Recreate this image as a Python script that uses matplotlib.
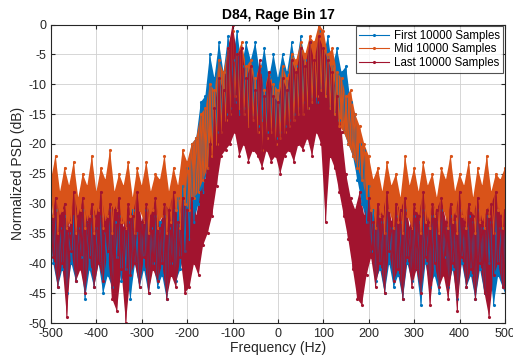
import numpy as np
import matplotlib
matplotlib.use('Agg')
import matplotlib.pyplot as plt

plt.rcParams['font.family'] = ['Liberation Sans', 'DejaVu Sans']
plt.rcParams['axes.unicode_minus'] = False

# frequency grid (Hz): peaks sit on the 10 Hz grid, troughs 5 Hz later
freq = np.arange(-500, 501, 10)

# PSD (dB): upper spikes and lower spikes, rows of 100 Hz
first_top = [
    -33, -31, -34, -32, -35, -32, -34, -31, -33, -32,
    -34, -32, -35, -31, -33, -32, -34, -33, -31, -35,
    -33, -31, -34, -32, -33, -32, -34, -31, -29, -27,
    -24, -20, -19, -13, -12, -5, -9, -3, -8, -2,
    -6, -1, -7, -3, -6, -3, -8, -4, -9, -5,
    -9, -5, -8, -3, -7, -2, -6, -3, -7, -1,
    -5, -2, -7, -4, -8, -7, -13, -15, -20, -21,
    -27, -31, -32, -33, -31, -34, -32, -33, -31, -34,
    -32, -33, -31, -34, -32, -33, -31, -34, -32, -33,
    -31, -34, -32, -33, -31, -34, -32, -33, -31, -34,
    -33,
]
first_bottom = [
    -40, -44, -41, -45, -40, -43, -39, -46, -41, -44,
    -40, -45, -42, -44, -39, -43, -41, -46, -40, -44,
    -41, -45, -40, -44, -42, -46, -40, -43, -41, -38,
    -36, -33, -30, -28, -24, -20, -18, -16, -15, -14,
    -13, -15, -14, -16, -15, -17, -16, -18, -17, -19,
    -18, -17, -16, -15, -14, -13, -14, -12, -13, -11,
    -12, -14, -15, -16, -18, -20, -22, -26, -30, -33,
    -38, -43, -41, -45, -40, -44, -42, -46, -40, -43,
    -41, -47, -40, -44, -42, -45, -39, -44, -41, -46,
    -40, -44, -42, -46, -41, -45, -40, -47, -42, -44,
    -46,
]

mid_top = [
    -26, -22, -28, -24, -27, -23, -29, -25, -27, -22,
    -28, -24, -26, -21, -28, -25, -27, -23, -29, -24,
    -27, -23, -28, -25, -26, -22, -28, -24, -27, -21,
    -23, -20, -19, -15, -14, -10, -11, -6, -8, -4,
    -1, -5, -3, -7, -6, -9, -7, -11, -8, -10,
    -11, -7, -9, -5, -6, -3, -5, -2, -3, 0,
    -1, -5, -4, -8, -9, -12, -11, -15, -17, -20,
    -22, -26, -24, -28, -23, -27, -25, -29, -22, -27,
    -24, -28, -23, -27, -25, -29, -24, -26, -22, -28,
    -25, -27, -23, -29, -24, -27, -22, -28, -25, -26,
    -24,
]
mid_bottom = [
    -32, -35, -31, -34, -33, -35, -31, -34, -32, -35,
    -31, -34, -32, -35, -31, -33, -34, -32, -35, -31,
    -33, -35, -31, -34, -32, -35, -33, -31, -34, -30,
    -31, -29, -28, -26, -24, -22, -20, -18, -16, -15,
    -12, -14, -15, -17, -16, -18, -21, -19, -18, -20,
    -19, -18, -17, -16, -15, -15, -14, -13, -12, -11,
    -12, -14, -15, -17, -18, -20, -22, -24, -26, -29,
    -31, -34, -32, -35, -31, -34, -33, -35, -32, -34,
    -31, -35, -33, -34, -32, -35, -31, -34, -33, -35,
    -32, -34, -31, -35, -33, -34, -32, -35, -31, -34,
    -33,
]

last_top = [
    -33, -29, -32, -30, -34, -28, -32, -29, -33, -30,
    -32, -28, -33, -30, -31, -29, -34, -30, -32, -28,
    -33, -30, -32, -29, -34, -30, -31, -28, -33, -29,
    -31, -29, -32, -28, -26, -20, -14, -9, -11, -4,
    0, -5, -4, -9, -7, -11, -6, -12, -8, -12,
    -13, -9, -11, -6, -8, -4, -7, -3, -6, -2,
    -4, -6, -8, -12, -18, -25, -29, -31, -28, -32,
    -29, -33, -30, -32, -28, -33, -30, -31, -29, -34,
    -30, -32, -28, -33, -30, -31, -29, -33, -30, -32,
    -28, -33, -30, -32, -29, -33, -31, -30, -28, -32,
    -31,
]
last_bottom = [
    -39, -44, -40, -49, -38, -43, -41, -45, -39, -44,
    -40, -43, -38, -46, -48, -41, -50, -42, -40, -44,
    -39, -45, -41, -43, -40, -46, -42, -44, -39, -45,
    -44, -40, -42, -37, -35, -32, -27, -22, -21, -20,
    -18, -22, -20, -23, -21, -22, -24, -21, -23, -22,
    -25, -22, -21, -23, -20, -21, -19, -22, -18, -20,
    -33, -22, -24, -28, -32, -36, -41, -46, -47, -42,
    -39, -44, -40, -45, -38, -43, -41, -46, -39, -44,
    -41, -45, -39, -47, -40, -44, -42, -46, -40, -48,
    -39, -44, -41, -46, -40, -45, -49, -42, -40, -44,
    -45,
]

series_labels = ['First 10000 Samples', 'Mid 10000 Samples', 'Last 10000 Samples']
colors = ['#0072BD', '#D95319', '#A2142F']
tops = [first_top, mid_top, last_top]
bottoms = [first_bottom, mid_bottom, last_bottom]

fig = plt.figure(figsize=(5.13, 3.64), dpi=100)
ax = fig.add_axes([0.0994, 0.1126, 0.885, 0.82])

f_low = freq + 5
for top, bot, lab, c in zip(tops, bottoms, series_labels, colors):
    top = np.array(top, dtype=float)
    bot = np.array(bot, dtype=float)
    # solid band between the spike envelopes
    ax.fill(np.r_[freq, f_low[::-1]], np.r_[top, bot[::-1]], color=c, lw=0)
    # the trace itself, zig-zagging between peaks and troughs
    xs = np.column_stack([freq, f_low]).ravel()
    ys = np.column_stack([top, bot]).ravel()
    ax.plot(xs, ys, color=c, linewidth=0.8, marker='.', markersize=2.5, label=lab)

ax.set_xlim(-500, 500)
ax.set_ylim(-50, 0)
ax.set_xticks(np.arange(-500, 501, 100))
ax.set_yticks(np.arange(-50, 1, 5))
ax.grid(True, color='#d0d0d0', linewidth=0.6)
ax.set_axisbelow(True)
ax.tick_params(direction='in', top=True, right=True, labelsize=9, length=3,
               color='#262626', labelcolor='#262626')
for s in ax.spines.values():
    s.set_color('#262626')
    s.set_linewidth(0.8)

ax.set_xlabel('Frequency (Hz)', fontsize=10, color='#262626', labelpad=1)
ax.set_ylabel('Normalized PSD (dB)', fontsize=10, color='#262626', labelpad=2)
ax.set_title('D84, Rage Bin 17', fontsize=10, fontweight='bold', pad=4)

leg = ax.legend(loc='upper right', fontsize=8.3, frameon=True, fancybox=False,
                borderpad=0.3, labelspacing=0.15, handlelength=2.6, handletextpad=0.4,
                borderaxespad=0.15)
leg.get_frame().set_edgecolor('#262626')
leg.get_frame().set_linewidth(0.8)

fig.savefig('out.png', dpi=100)
